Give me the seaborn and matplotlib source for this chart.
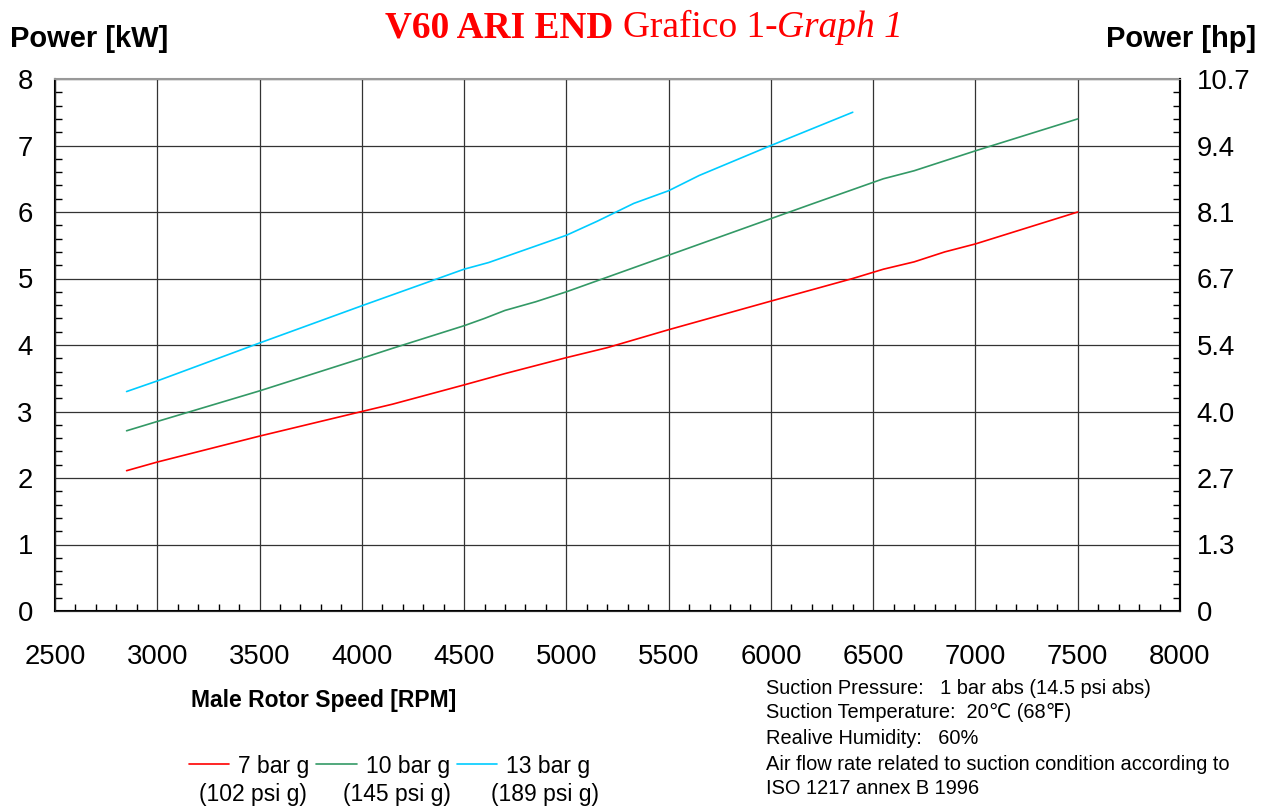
import pandas as pd
import matplotlib
matplotlib.use("Agg")
import matplotlib.pyplot as plt
from matplotlib.ticker import MultipleLocator
import seaborn as sns

# ─────────────────────────────
# DATA
# ─────────────────────────────
SERIES = ["7 bar g", "10 bar g", "13 bar g"]
PSI_LABELS = ["(102 psi g)", "(145 psi g)", "(189 psi g)"]
COLORS = ["#FF0000", "#339966", "#00CCFF"]

RPM_7 = [2850, 3000, 3500, 4000, 4150, 4500, 4700, 5000, 5200, 5500,
         6000, 6400, 6550, 6700, 6850, 7000, 7500]
KW_7 = [2.11, 2.24, 2.63, 3.00, 3.11, 3.40, 3.57, 3.81, 3.96, 4.23,
        4.66, 5.00, 5.14, 5.25, 5.40, 5.52, 6.00]

RPM_10 = [2850, 3000, 3500, 4000, 4150, 4500, 4600, 4700, 4850, 5000,
          5500, 6000, 6200, 6550, 6700, 7000, 7500]
KW_10 = [2.71, 2.85, 3.31, 3.80, 3.95, 4.29, 4.40, 4.52, 4.65, 4.80,
         5.35, 5.90, 6.12, 6.50, 6.62, 6.92, 7.40]

RPM_13 = [2850, 3000, 3500, 4000, 4500, 4620, 5000, 5150, 5330, 5500,
          5650, 6000, 6400]
KW_13 = [3.30, 3.46, 4.03, 4.59, 5.14, 5.24, 5.65, 5.86, 6.13, 6.32,
         6.55, 7.00, 7.50]

KW_TICKS = [0, 1, 2, 3, 4, 5, 6, 7, 8]
HP_LABELS = ["0", "1.3", "2.7", "4.0", "5.4", "6.7", "8.1", "9.4", "10.7"]

NOTES = [
    "Suction Pressure:   1 bar abs (14.5 psi abs)",
    "Suction Temperature:  20\u2103 (68\u2109)",
    "Realive Humidity:   60%",
    "Air flow rate related to suction condition according to",
    "ISO 1217 annex B 1996",
]

df = pd.concat([
    pd.DataFrame({"rpm": RPM_7, "kw": KW_7, "series": SERIES[0]}),
    pd.DataFrame({"rpm": RPM_10, "kw": KW_10, "series": SERIES[1]}),
    pd.DataFrame({"rpm": RPM_13, "kw": KW_13, "series": SERIES[2]}),
])

# ─────────────────────────────
# STYLE
# ─────────────────────────────
sns.set_style("ticks")
plt.rcParams["font.family"] = ["Liberation Sans", "DejaVu Sans"]
plt.rcParams["text.color"] = "black"

W, H = 1262, 810
fig = plt.figure(figsize=(W / 100, H / 100), dpi=100)
ax = fig.add_axes([55 / W, 1 - 611 / H, (1180 - 55) / W, (611 - 79) / H])

sns.lineplot(data=df, x="rpm", y="kw", hue="series",
             palette=dict(zip(SERIES, COLORS)), estimator=None,
             linewidth=1.2, ax=ax)

ax.set_xlim(2500, 8000)
ax.set_ylim(0, 8)
ax.xaxis.set_major_locator(MultipleLocator(500))
ax.xaxis.set_minor_locator(MultipleLocator(100))
ax.set_yticks(KW_TICKS)
ax.yaxis.set_minor_locator(MultipleLocator(0.2))
ax.set_xlabel("")
ax.set_ylabel("")
ax.grid(True, which="major", color="#333333", linewidth=0.9)
ax.tick_params(which="major", length=0, labelsize=19.8,
               labelcolor="black")
ax.tick_params(axis="x", which="major", pad=24)
ax.tick_params(axis="y", which="major", pad=16)
ax.tick_params(which="minor", direction="in", length=5, width=1, color="black")
for s in ["left", "bottom", "right"]:
    ax.spines[s].set_color("black")
    ax.spines[s].set_linewidth(1.5)
ax.spines["top"].set_color("#999999")
ax.spines["top"].set_linewidth(1.5)

# right axis in hp
ax2 = ax.twinx()
ax2.set_ylim(0, 8)
ax2.set_yticks(KW_TICKS)
ax2.set_yticklabels(HP_LABELS)
ax2.yaxis.set_minor_locator(MultipleLocator(0.2))
ax2.grid(False)
ax2.tick_params(which="major", length=0, labelsize=19.8, pad=12,
                labelcolor="black")
ax2.tick_params(which="minor", direction="in", length=5, width=1, color="black")
ax2.spines["right"].set_color("black")
ax2.spines["right"].set_linewidth(1.5)
ax2.spines["top"].set_color("#999999")

# legend
handles, labels = ax.get_legend_handles_labels()
leg = ax.legend(handles, labels, loc="center left",
                bbox_to_anchor=(189 / W, 1 - 766 / H),
                bbox_transform=fig.transFigure,
                ncol=3, frameon=False, fontsize=16.5, handlelength=1.75,
                handletextpad=0.4, columnspacing=0.3, borderaxespad=0,
                borderpad=0)
for t in leg.get_texts():
    t.set_color("black")
for cx, txt in zip([253, 397, 545], PSI_LABELS):
    fig.text(cx / W, 1 - 795 / H, txt, fontsize=16.5, ha="center", va="center")

# axis titles
fig.text(10 / W, 1 - 39 / H, "Power [kW]", fontsize=21, fontweight="bold",
         ha="left", va="center")
fig.text(1256 / W, 1 - 39 / H, "Power [hp]", fontsize=21, fontweight="bold",
         ha="right", va="center")
fig.text(324 / W, 1 - 700 / H, "Male Rotor Speed [RPM]", fontsize=16.5,
         fontweight="bold", ha="center", va="center")

# notes
for yy, line in zip([688, 712, 738, 764, 788], NOTES):
    fig.text(766 / W, 1 - yy / H, line, fontsize=14.4, ha="left", va="center")

# title made of three styled pieces
renderer = fig.canvas.get_renderer()
x0 = 385
parts = [("V60 ARI END ", "bold", "normal"),
         ("Grafico 1-", "normal", "normal"),
         ("Graph 1", "normal", "italic")]
for txt, wt, st in parts:
    t = fig.text(x0 / W, 1 - 28 / H, txt, fontsize=26.9, color="#FF0000",
                 fontweight=wt, fontstyle=st, ha="left", va="center",
                 family=["Liberation Serif", "DejaVu Serif"])
    bb = t.get_window_extent(renderer=renderer)
    x0 = bb.x1

fig.savefig("out.png", dpi=100)
